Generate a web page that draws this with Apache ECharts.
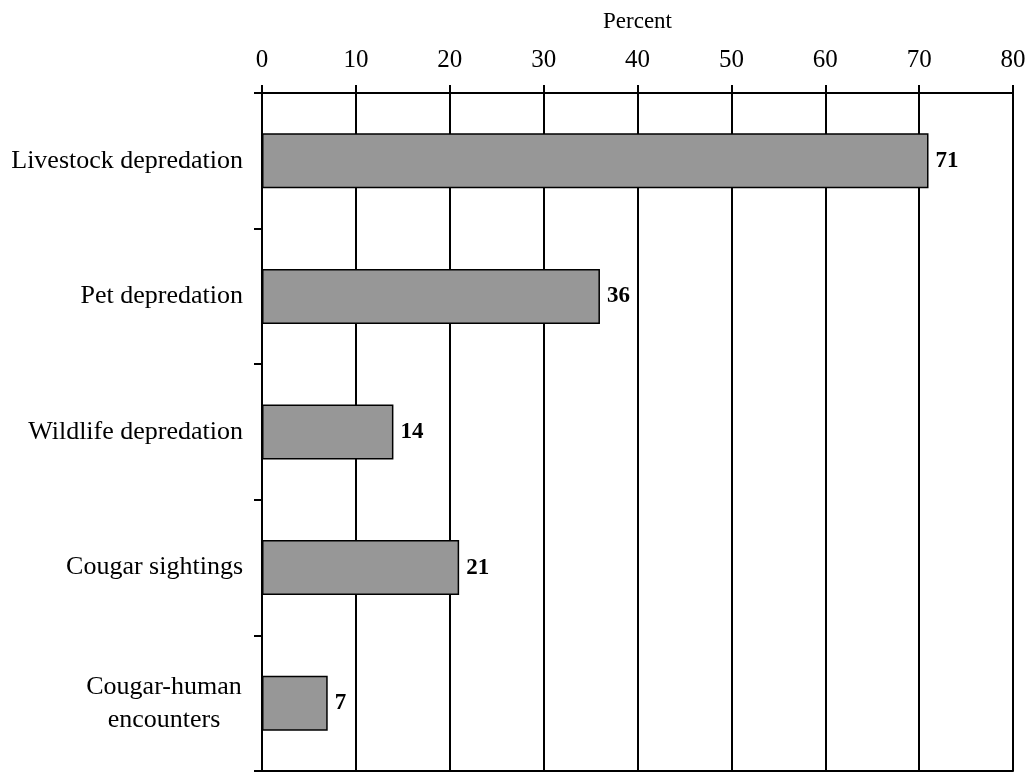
<!DOCTYPE html>
<html>
<head>
<meta charset="utf-8">
<script src="https://cdn.jsdelivr.net/npm/echarts@6/dist/echarts.min.js"></script>
<style>
html,body{margin:0;padding:0;background:#fff;}
#chart{width:1031px;height:772px;}
</style>
</head>
<body>
<div id="chart"></div>
<script>
const categories = ["Livestock depredation", "Pet depredation", "Wildlife depredation", "Cougar sightings", "Cougar-human\nencounters"];
const values = [71, 36, 14, 21, 7];
const axisTitle = "Percent";

const FONT = '"Liberation Serif", "Times New Roman", serif';
const chart = echarts.init(document.getElementById('chart'));
chart.setOption({
  backgroundColor: '#fff',
  animation: false,
  grid: { left: 262, right: 18, top: 93, bottom: 1, containLabel: false },
  xAxis: [{
    type: 'value', position: 'top', min: 0, max: 80, interval: 10,
    name: axisTitle, nameLocation: 'middle', nameGap: 60,
    nameTextStyle: { fontFamily: FONT, fontSize: 23, color: '#000' },
    axisLine: { show: true, lineStyle: { color: '#000', width: 2 } },
    axisTick: { show: true, length: 8, lineStyle: { color: '#000', width: 2 } },
    axisLabel: { fontFamily: FONT, fontSize: 25, color: '#000', margin: 20 },
    splitLine: { show: true, lineStyle: { color: '#000', width: 2 } }
  }, {
    type: 'value', position: 'bottom', min: 0, max: 80, interval: 10,
    axisLine: { show: true, lineStyle: { color: '#000', width: 2 } },
    axisTick: { show: false }, axisLabel: { show: false }, splitLine: { show: false }
  }],
  yAxis: {
    type: 'category', data: categories, inverse: true,
    axisLine: { show: true, lineStyle: { color: '#000', width: 2 } },
    axisTick: { show: true, length: 8, lineStyle: { color: '#000', width: 2 } },
    axisLabel: {
      fontFamily: FONT, fontSize: 26, color: '#000', margin: 19, align: 'right',
      formatter: v => v.indexOf('\n') >= 0 ? v.split('\n').map(s => '{c|' + s + '}').join('\n') : v,
      rich: { c: { fontFamily: FONT, fontSize: 26, color: '#000', width: 158, align: 'center', lineHeight: 33 } }
    },
    splitLine: { show: false }
  },
  series: [{
    type: 'bar', data: values, xAxisIndex: 0, barWidth: 55,
    itemStyle: { color: '#979797', borderColor: '#000', borderWidth: 1.5 },
    label: { show: true, position: 'right', distance: 7, fontFamily: FONT, fontSize: 23, fontWeight: 'bold', color: '#000' }
  }]
});
</script>
</body>
</html>
